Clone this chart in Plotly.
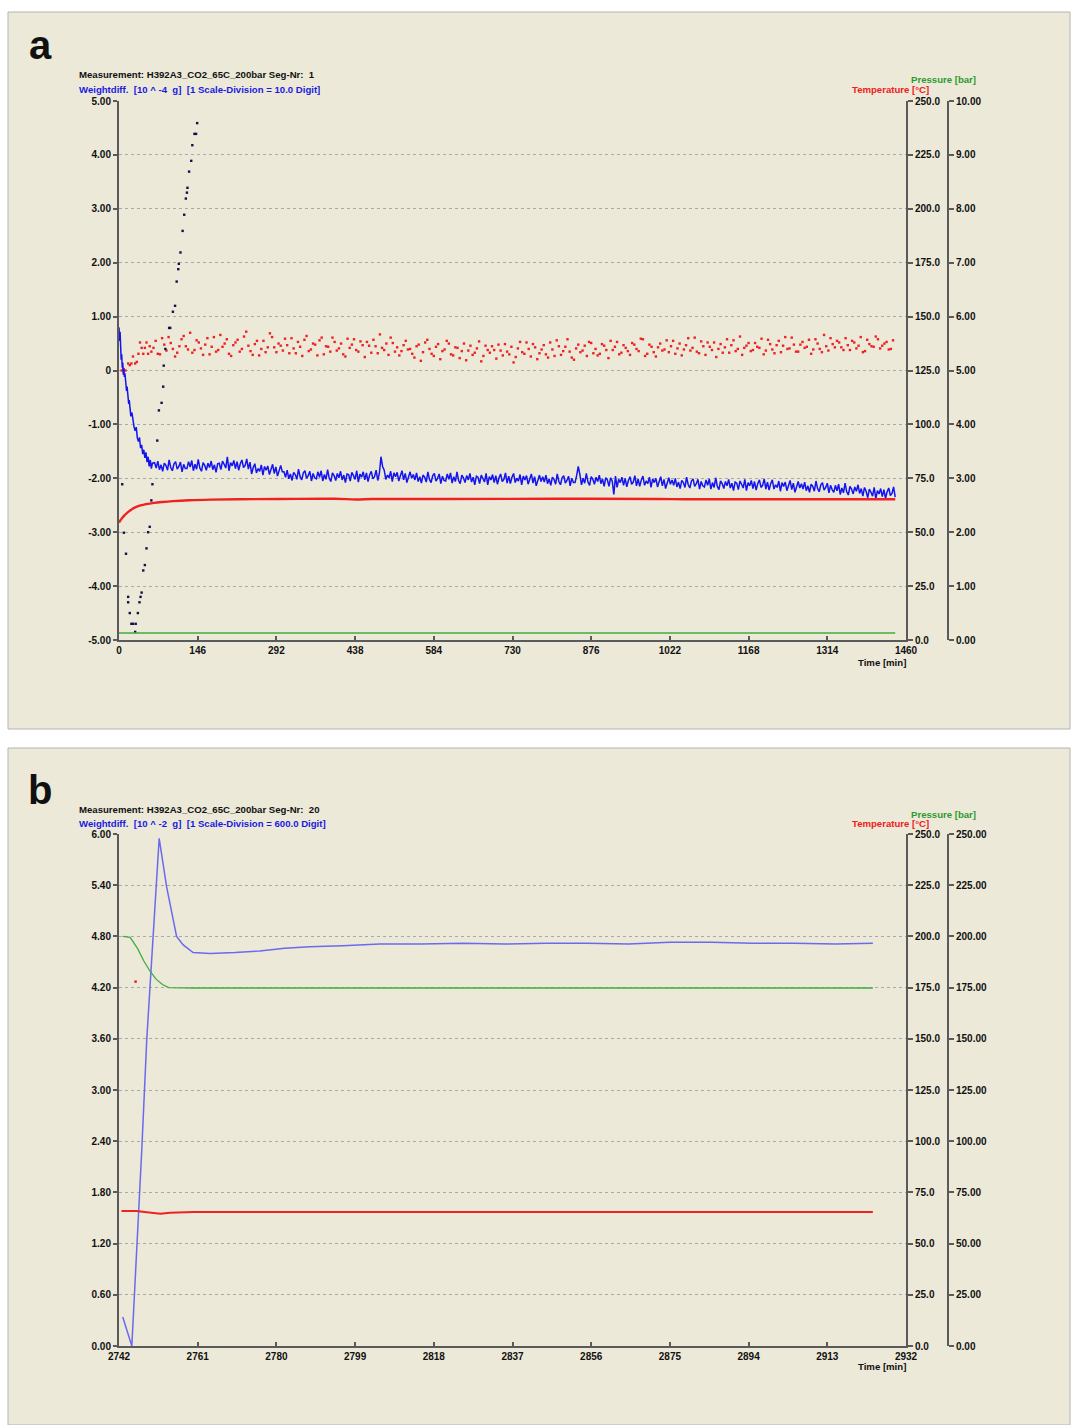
import plotly.graph_objects as go

W, H = 1071, 1425
FONT = "Liberation Sans"


def px(x):
    return x / W


def py(y):
    return 1 - y / H


# ---------------- Panel a : tick labels ----------------
A_X_TICKS = [0, 146, 292, 438, 584, 730, 876, 1022, 1168, 1314, 1460]
A_W_TICKVALS = [5, 4, 3, 2, 1, 0, -1, -2, -3, -4, -5]
A_W_TICKTEXT = ["5.00", "4.00", "3.00", "2.00", "1.00", "0", "-1.00", "-2.00", "-3.00", "-4.00", "-5.00"]
A_T_TICKVALS = [250, 225, 200, 175, 150, 125, 100, 75, 50, 25, 0]
A_T_TICKTEXT = ["250.0", "225.0", "200.0", "175.0", "150.0", "125.0", "100.0", "75.0", "50.0", "25.0", "0.0"]
A_P_TICKVALS = [10, 9, 8, 7, 6, 5, 4, 3, 2, 1, 0]
A_P_TICKTEXT = ["10.00", "9.00", "8.00", "7.00", "6.00", "5.00", "4.00", "3.00", "2.00", "1.00", "0.00"]

# ---------------- Panel a : data ----------------
# weight difference line (blue), early section
A_WL_T_EARLY = [0, 1, 2, 3, 4, 5, 6, 7, 8, 9, 10, 11, 12, 13, 14, 15, 16, 17, 18, 19, 20, 22,
                24, 26, 28, 30, 32, 34, 36, 38, 40, 42, 44, 46, 48, 50, 52, 54, 56, 58, 60, 62]
A_WL_V_EARLY = [0.80, 0.55, 0.72, 0.35, 0.20, 0.30, 0.05, 0.15, -0.08, 0.04, -0.12, -0.05,
                -0.25, -0.18, -0.38, -0.30, -0.45, -0.52, -0.62, -0.55, -0.70, -0.85, -0.78,
                -0.98, -1.05, -1.12, -1.05, -1.25, -1.32, -1.24, -1.44, -1.38, -1.55, -1.47,
                -1.62, -1.52, -1.70, -1.60, -1.78, -1.66, -1.82, -1.72]
# weight difference line (blue), from t = 66 min every 3 min
A_WL_START, A_WL_STEP = 66, 3
A_WL_V = [
    -1.71, -1.81, -1.68, -1.84, -1.75, -1.87, -1.72, -1.76, -1.85, -1.66, -1.80, -1.86, -1.73, -1.69, -1.83, -1.78, -1.70, -1.88, -1.74, -1.82,
    -1.82, -1.69, -1.79, -1.67, -1.86, -1.74, -1.83, -1.65, -1.81, -1.87, -1.71, -1.76, -1.85, -1.72, -1.80, -1.68, -1.84, -1.75, -1.89, -1.73,
    -1.72, -1.84, -1.68, -1.74, -1.81, -1.60, -1.86, -1.71, -1.77, -1.67, -1.82, -1.69, -1.85, -1.73, -1.66, -1.80, -1.76, -1.64, -1.83, -1.70,
    -1.92, -1.80, -1.73, -1.90, -1.82, -1.87, -1.75, -1.94, -1.78, -1.85, -1.77, -1.93, -1.81, -1.74, -1.91, -1.79, -1.96, -1.83, -1.76, -1.88,
    -1.88, -1.98, -1.85, -2.01, -1.92, -2.04, -1.89, -1.93, -2.02, -1.83, -1.97, -2.03, -1.90, -1.86, -2.00, -1.95, -1.87, -2.05, -1.91, -1.99,
    -2.01, -1.88, -1.98, -1.86, -2.05, -1.93, -2.02, -1.84, -2.00, -2.06, -1.90, -1.95, -2.04, -1.91, -1.99, -1.87, -2.03, -1.94, -2.08, -1.92,
    -1.93, -2.05, -1.89, -1.95, -2.02, -1.86, -2.07, -1.92, -1.98, -1.88, -2.03, -1.90, -2.06, -1.94, -1.87, -2.01, -1.97, -1.85, -2.04, -1.91,
    -1.60, -1.78, -1.85, -2.02, -1.94, -1.99, -1.87, -2.06, -1.90, -1.97, -1.89, -2.05, -1.93, -1.86, -2.03, -1.91, -2.08, -1.95, -1.88, -2.00,
    -1.93, -2.03, -1.90, -2.06, -1.97, -2.09, -1.94, -1.98, -2.07, -1.88, -2.02, -2.08, -1.95, -1.91, -2.05, -2.00, -1.92, -2.10, -1.96, -2.04,
    -2.05, -1.92, -2.02, -1.90, -2.09, -1.97, -2.06, -1.88, -2.04, -2.10, -1.94, -1.99, -2.08, -1.95, -2.03, -1.91, -2.07, -1.98, -2.12, -1.96,
    -1.98, -2.10, -1.94, -2.00, -2.07, -1.91, -2.12, -1.97, -2.03, -1.93, -2.08, -1.95, -2.11, -1.99, -1.92, -2.06, -2.02, -1.90, -2.09, -1.96,
    -2.10, -1.98, -1.91, -2.08, -2.00, -2.05, -1.93, -2.12, -1.96, -2.03, -1.95, -2.11, -1.99, -1.92, -2.09, -1.97, -2.14, -2.01, -1.94, -2.06,
    -1.97, -2.07, -1.94, -2.10, -2.01, -2.13, -1.98, -2.02, -2.11, -1.92, -2.06, -2.12, -1.99, -1.95, -2.09, -2.04, -1.96, -2.14, -2.00, -2.08,
    -2.08, -1.95, -1.78, -1.93, -2.12, -2.00, -2.09, -1.91, -2.07, -2.13, -1.97, -2.02, -2.11, -1.98, -2.06, -1.94, -2.10, -2.01, -2.15, -1.99,
    -2.03, -2.15, -1.99, -2.05, -2.30, -1.96, -2.17, -2.02, -2.08, -1.98, -2.13, -2.00, -2.16, -2.04, -1.97, -2.11, -2.07, -1.95, -2.14, -2.01,
    -2.15, -2.03, -1.96, -2.13, -2.05, -2.10, -1.98, -2.17, -2.01, -2.08, -2.00, -2.16, -2.04, -1.97, -2.14, -2.02, -2.19, -2.06, -1.99, -2.11,
    -2.03, -2.13, -2.00, -2.16, -2.07, -2.19, -2.04, -2.08, -2.17, -1.98, -2.12, -2.18, -2.05, -2.01, -2.15, -2.10, -2.02, -2.20, -2.06, -2.14,
    -2.16, -2.03, -2.13, -2.01, -2.20, -2.08, -2.17, -1.99, -2.15, -2.21, -2.05, -2.10, -2.19, -2.06, -2.14, -2.02, -2.18, -2.09, -2.23, -2.07,
    -2.09, -2.21, -2.05, -2.11, -2.18, -2.02, -2.23, -2.08, -2.14, -2.04, -2.19, -2.06, -2.22, -2.10, -2.03, -2.17, -2.13, -2.01, -2.20, -2.07,
    -2.22, -2.10, -2.03, -2.20, -2.12, -2.17, -2.05, -2.24, -2.08, -2.15, -2.07, -2.23, -2.11, -2.04, -2.21, -2.09, -2.26, -2.13, -2.06, -2.18,
    -2.10, -2.20, -2.07, -2.23, -2.14, -2.26, -2.11, -2.15, -2.24, -2.05, -2.19, -2.25, -2.12, -2.08, -2.22, -2.17, -2.09, -2.27, -2.13, -2.21,
    -2.26, -2.13, -2.23, -2.11, -2.30, -2.18, -2.27, -2.09, -2.25, -2.31, -2.15, -2.20, -2.29, -2.16, -2.24, -2.12, -2.28, -2.19, -2.33, -2.17,
    -2.24, -2.36, -2.20, -2.26, -2.33, -2.17, -2.38, -2.23, -2.29, -2.19, -2.34, -2.21, -2.37, -2.25, -2.18, -2.32, -2.28, -2.16, -2.35,
]
# dark scattered points
A_DOT_T = [6, 9, 13, 17, 17, 20, 23, 26, 30, 31, 35, 38, 40, 42, 45, 48, 51, 54, 57, 60, 62,
           71, 74, 79, 82, 83, 86, 93, 95, 100, 104, 107, 110, 111, 114, 118, 121, 124, 126,
           127, 130, 134, 136, 140, 143, 145]
A_DOT_V = [-2.11, -3.01, -3.40, -4.20, -4.30, -4.50, -4.70, -4.70, -4.85, -4.70, -4.50, -4.30,
           -4.20, -4.12, -3.71, -3.61, -3.30, -3.00, -2.90, -2.41, -2.11, -1.30, -0.74, -0.60,
           -0.30, 0.09, 0.40, 0.79, 0.79, 1.09, 1.20, 1.65, 1.88, 1.98, 2.19, 2.59, 2.89, 3.19,
           3.30, 3.39, 3.69, 3.89, 4.18, 4.39, 4.39, 4.59]
# red scattered points, early
A_RDOT_T_EARLY = [5, 8, 12, 17, 20, 23, 26, 30, 33, 36, 39, 42, 45, 48, 51, 54, 57]
A_RDOT_V_EARLY = [0.00, 0.03, 0.00, 0.13, 0.10, 0.13, 0.26, 0.13, 0.16, 0.31, 0.52, 0.42, 0.31,
                  0.42, 0.52, 0.31, 0.45]
# red scattered points, series 1: from t = 60 min every 8 min
A_RDOT_START, A_RDOT_STEP = 60, 8
A_RDOT_V = [
    0.35, 0.55, 0.30, 0.48, 0.62, 0.40, 0.33, 0.58, 0.45, 0.70,
    0.38, 0.52, 0.29, 0.60, 0.44, 0.35, 0.66, 0.50, 0.31, 0.47,
    0.57, 0.40, 0.72, 0.36, 0.49, 0.28, 0.55, 0.43, 0.62, 0.34,
    0.46, 0.59, 0.32, 0.41, 0.53, 0.27, 0.64, 0.39, 0.48, 0.56,
    0.30, 0.44, 0.61, 0.37, 0.50, 0.26, 0.42, 0.58, 0.35, 0.47,
    0.53, 0.33, 0.45, 0.67, 0.38, 0.29, 0.51, 0.43, 0.36, 0.55,
    0.40, 0.24, 0.48, 0.34, 0.57, 0.31, 0.44, 0.21, 0.39, 0.50,
    0.28, 0.42, 0.36, 0.19, 0.46, 0.33, 0.54, 0.27, 0.38, 0.45,
    0.22, 0.37, 0.49, 0.30, 0.15, 0.41, 0.34, 0.52, 0.26, 0.43,
    0.32, 0.47, 0.24, 0.39, 0.56, 0.29, 0.44, 0.35, 0.20, 0.48,
    0.37, 0.27, 0.51, 0.40, 0.31, 0.46, 0.23, 0.38, 0.53, 0.33,
    0.42, 0.29, 0.48, 0.36, 0.58, 0.31, 0.44, 0.26, 0.50, 0.39,
    0.34, 0.55, 0.41, 0.28, 0.47, 0.37, 0.61, 0.32, 0.45, 0.52,
    0.38, 0.25, 0.49, 0.43, 0.33, 0.56, 0.40, 0.29, 0.46, 0.36,
    0.51, 0.42, 0.30, 0.57, 0.39, 0.47, 0.34, 0.62, 0.41, 0.48,
    0.35, 0.53, 0.44, 0.31, 0.58, 0.40, 0.66, 0.37, 0.49, 0.55,
    0.43, 0.60, 0.38, 0.52, 0.46, 0.34, 0.57, 0.45, 0.63, 0.41,
    0.50, 0.39, 0.56,
]
# red scattered points, series 2: from t = 64 min every 8 min
A_RDOT2_START, A_RDOT2_STEP = 64, 8
A_RDOT2_V = [
    0.42, 0.31, 0.60, 0.37, 0.51, 0.26, 0.45, 0.64, 0.39, 0.33,
    0.56, 0.41, 0.48, 0.30, 0.62, 0.38, 0.44, 0.58, 0.27, 0.52,
    0.35, 0.63, 0.46, 0.29, 0.55, 0.40, 0.34, 0.69, 0.43, 0.50,
    0.37, 0.47, 0.60, 0.32, 0.44, 0.57, 0.36, 0.50, 0.28, 0.61,
    0.45, 0.35, 0.53, 0.41, 0.30, 0.59, 0.48, 0.38, 0.54, 0.25,
    0.46, 0.57, 0.32, 0.42, 0.50, 0.61, 0.35, 0.28, 0.47, 0.39,
    0.31, 0.45, 0.18, 0.52, 0.40, 0.27, 0.49, 0.36, 0.55, 0.30,
    0.43, 0.23, 0.50, 0.37, 0.29, 0.41, 0.17, 0.46, 0.33, 0.38,
    0.48, 0.28, 0.35, 0.44, 0.25, 0.53, 0.31, 0.40, 0.49, 0.21,
    0.39, 0.30, 0.52, 0.27, 0.45, 0.36, 0.58, 0.24, 0.41, 0.34,
    0.46, 0.53, 0.32, 0.28, 0.49, 0.38, 0.55, 0.44, 0.30, 0.47,
    0.36, 0.51, 0.40, 0.59, 0.27, 0.48, 0.34, 0.43, 0.37, 0.56,
    0.45, 0.31, 0.50, 0.39, 0.60, 0.42, 0.35, 0.54, 0.29, 0.44,
    0.52, 0.40, 0.33, 0.58, 0.47, 0.36, 0.63, 0.42, 0.51, 0.38,
    0.44, 0.59, 0.37, 0.49, 0.32, 0.55, 0.46, 0.40, 0.61, 0.35,
    0.48, 0.42, 0.57, 0.39, 0.50, 0.34, 0.45, 0.60, 0.43, 0.52,
    0.38, 0.47, 0.55, 0.41, 0.62, 0.36, 0.49, 0.44, 0.58, 0.46,
    0.53, 0.40,
]
# temperature (red line)
A_TEMP_T = [0, 5, 10, 15, 20, 30, 40, 50, 65, 80, 100, 130, 170, 220, 300, 400, 440, 470,
            600, 800, 1000, 1050, 1200, 1440]
A_TEMP_V = [54.5, 56.3, 57.8, 59.0, 60.0, 61.5, 62.4, 63.0, 63.6, 64.0, 64.4, 64.8, 65.1,
            65.3, 65.4, 65.5, 65.2, 65.4, 65.4, 65.5, 65.4, 65.3, 65.3, 65.3]
# pressure (green line)
A_PRES_T = [0, 1440]
A_PRES_V = [0.13, 0.13]

# ---------------- Panel b : tick labels ----------------
B_X_TICKS = [2742, 2761, 2780, 2799, 2818, 2837, 2856, 2875, 2894, 2913, 2932]
B_W_TICKVALS = [6.0, 5.4, 4.8, 4.2, 3.6, 3.0, 2.4, 1.8, 1.2, 0.6, 0.0]
B_W_TICKTEXT = ["6.00", "5.40", "4.80", "4.20", "3.60", "3.00", "2.40", "1.80", "1.20", "0.60", "0.00"]
B_T_TICKVALS = A_T_TICKVALS
B_T_TICKTEXT = A_T_TICKTEXT
B_P_TICKVALS = [250, 225, 200, 175, 150, 125, 100, 75, 50, 25, 0]
B_P_TICKTEXT = ["250.00", "225.00", "200.00", "175.00", "150.00", "125.00", "100.00", "75.00",
                "50.00", "25.00", "0.00"]

# ---------------- Panel b : data ----------------
B_W_T = [2742.9, 2745.1, 2747.5, 2748.7, 2751.7, 2753.5, 2755.9, 2757.5, 2759.9, 2764, 2770,
         2776, 2782, 2788, 2796, 2805, 2815, 2825, 2835, 2845, 2855, 2865, 2875, 2885, 2895,
         2905, 2915, 2924]
B_W_V = [0.34, 0.00, 2.30, 3.59, 5.95, 5.38, 4.80, 4.70, 4.61, 4.60, 4.61, 4.63, 4.66, 4.68,
         4.69, 4.71, 4.71, 4.72, 4.71, 4.72, 4.72, 4.71, 4.73, 4.73, 4.72, 4.72, 4.71, 4.72]
B_PRES_T = [2742.9, 2744.7, 2746.5, 2748, 2749.5, 2751, 2752.5, 2754, 2760, 2924]
B_PRES_V = [200.0, 199.5, 194, 188, 183, 179, 176.5, 175.0, 174.8, 174.8]
B_TEMP_T = [2742.6, 2746.2, 2748.7, 2752, 2754.3, 2760, 2924]
B_TEMP_V = [65.9, 65.9, 65.3, 64.6, 65.1, 65.4, 65.4]
B_RDOT_T = [2746.0]
B_RDOT_V = [4.27]

# ---------------- build series ----------------
a_wl_t = A_WL_T_EARLY + [A_WL_START + A_WL_STEP * i for i in range(len(A_WL_V))]
a_wl_v = A_WL_V_EARLY + A_WL_V
a_rd_t = (A_RDOT_T_EARLY + [A_RDOT_START + A_RDOT_STEP * i for i in range(len(A_RDOT_V))]
          + [A_RDOT2_START + A_RDOT2_STEP * i for i in range(len(A_RDOT2_V))])
a_rd_v = A_RDOT_V_EARLY + A_RDOT_V + A_RDOT2_V

BLUE = "#1414f0"
DARK = "#10104a"
RED = "#ee2222"
GREEN = "#3fae3f"
BLUE_B = "#6a6aee"
AXC = "#5a5a5a"

fig = go.Figure()
# panel a
fig.add_trace(go.Scatter(x=A_PRES_T, y=A_PRES_V, mode="lines", line=dict(color=GREEN, width=1.5),
                         xaxis="x", yaxis="y3"))
fig.add_trace(go.Scatter(x=A_TEMP_T, y=A_TEMP_V, mode="lines", line=dict(color=RED, width=2.4, shape="spline"),
                         xaxis="x", yaxis="y2"))
fig.add_trace(go.Scatter(x=a_rd_t, y=a_rd_v, mode="markers",
                         marker=dict(color=RED, size=2.4, symbol="square"), xaxis="x", yaxis="y"))
fig.add_trace(go.Scatter(x=a_wl_t, y=a_wl_v, mode="lines", line=dict(color=BLUE, width=1.5),
                         xaxis="x", yaxis="y"))
fig.add_trace(go.Scatter(x=A_DOT_T, y=A_DOT_V, mode="markers",
                         marker=dict(color=DARK, size=2.4, symbol="square"), xaxis="x", yaxis="y"))
# panel b
fig.add_trace(go.Scatter(x=B_PRES_T, y=B_PRES_V, mode="lines", line=dict(color=GREEN, width=1.3),
                         xaxis="x2", yaxis="y6"))
fig.add_trace(go.Scatter(x=B_TEMP_T, y=B_TEMP_V, mode="lines", line=dict(color=RED, width=2),
                         xaxis="x2", yaxis="y5"))
fig.add_trace(go.Scatter(x=B_RDOT_T, y=B_RDOT_V, mode="markers",
                         marker=dict(color=RED, size=2.5, symbol="square"), xaxis="x2", yaxis="y4"))
fig.add_trace(go.Scatter(x=B_W_T, y=B_W_V, mode="lines", line=dict(color=BLUE_B, width=1.5),
                         xaxis="x2", yaxis="y4"))

TF = dict(family=FONT, size=10, color="#111111", weight="bold")
XDOM = [px(119), px(906)]
PPOS = px(948)


def xax(rng, ticks, anchor):
    return dict(domain=XDOM, anchor=anchor, range=rng, tickmode="array", tickvals=ticks,
                ticktext=[str(t) for t in ticks], ticks="inside", ticklen=4, tickcolor=AXC,
                tickwidth=1.5, showgrid=False, zeroline=False, showline=True, linecolor=AXC,
                linewidth=2, tickfont=TF, automargin=False, fixedrange=True)


def yleft(dom, rng, vals, text, anchor):
    return dict(domain=dom, anchor=anchor, range=rng, tickmode="array", tickvals=vals,
                ticktext=text, ticks="outside", ticklen=4, tickcolor=AXC, tickwidth=1.5,
                showgrid=True, gridcolor="#a9a9a9", griddash="dot", gridwidth=1,
                zeroline=False, showline=True, linecolor=AXC, linewidth=2, tickfont=TF,
                automargin=False, fixedrange=True)


def yright(over, rng, vals, text, anchor, position=None):
    d = dict(overlaying=over, side="right", range=rng, tickmode="array", tickvals=vals,
             ticktext=text, ticks="outside", ticklen=5, tickcolor=AXC, tickwidth=1.5,
             showgrid=False, zeroline=False, showline=True, linecolor=AXC, linewidth=2,
             tickfont=TF, automargin=False, fixedrange=True)
    if position is None:
        d["anchor"] = anchor
    else:
        d["anchor"] = "free"
        d["position"] = position
    return d


fig.update_layout(
    width=W, height=H, autosize=False, template="none",
    margin=dict(l=0, r=0, t=0, b=0, pad=0),
    paper_bgcolor="white", plot_bgcolor="rgba(0,0,0,0)",
    showlegend=False,
    xaxis=xax([0, 1460], A_X_TICKS, "y"),
    yaxis=yleft([py(640), py(101)], [-5, 5], A_W_TICKVALS, A_W_TICKTEXT, "x"),
    yaxis2=yright("y", [0, 250], A_T_TICKVALS, A_T_TICKTEXT, "x"),
    yaxis3=yright("y", [0, 10], A_P_TICKVALS, A_P_TICKTEXT, "x", PPOS),
    xaxis2=xax([2742, 2932], B_X_TICKS, "y4"),
    yaxis4=yleft([py(1346), py(834)], [0, 6], B_W_TICKVALS, B_W_TICKTEXT, "x2"),
    yaxis5=yright("y4", [0, 250], B_T_TICKVALS, B_T_TICKTEXT, "x2"),
    yaxis6=yright("y4", [0, 250], B_P_TICKVALS, B_P_TICKTEXT, "x2", PPOS),
)

# panel backgrounds
for (top, bottom) in [(12, 729), (748, 1425)]:
    fig.add_shape(type="rect", xref="paper", yref="paper", x0=px(8), x1=px(1070),
                  y0=py(bottom), y1=py(top), fillcolor="#ECE9D8",
                  line=dict(color="#b4b4b4", width=1), layer="below")


def note(text, x, y, color, size=9.6, xanchor="left", weight="bold"):
    fig.add_annotation(text=text, x=px(x), y=py(y), xref="paper", yref="paper",
                       xanchor=xanchor, yanchor="middle", showarrow=False,
                       font=dict(family=FONT, size=size, color=color, weight=weight))


for (lab, ly, seg, ly1, ly2, wtxt, ylabt) in [
    ("a", 45, "1", 75, 90, "Weightdiff.  [10 ^ -4  g]  [1 Scale-Division = 10.0 Digit]", 662),
    ("b", 790, "20", 809, 824, "Weightdiff.  [10 ^ -2  g]  [1 Scale-Division = 600.0 Digit]", 1366),
]:
    note(lab, 40, ly, "#111111", size=40, xanchor="center")
    note("Measurement: H392A3_CO2_65C_200bar Seg-Nr:  " + seg, 77, ly1, "#111111")
    note(wtxt, 77, ly2, "#1a1ae0")
    note("Pressure [bar]", 978, ly1 + 5, "#2e9a2e", xanchor="right")
    note("Temperature [°C]", 931, ly2, "#ee2020", xanchor="right")
    note("Time [min]", 882, ylabt, "#111111", xanchor="center")

fig.write_html("out.html", config={"displayModeBar": False},
               post_script="document.body.style.margin='0';document.body.style.overflow='hidden';")
